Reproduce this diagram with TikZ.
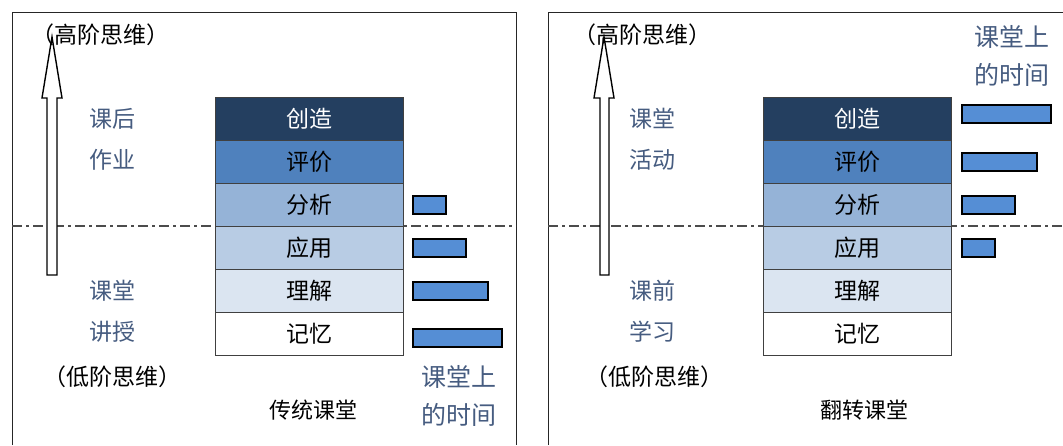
\documentclass[tikz,border=0pt]{standalone}
\usepackage{fontspec}
\setmainfont{Noto Sans CJK SC}
\usetikzlibrary{positioning}
\definecolor{lvA}{HTML}{243F60}
\definecolor{lvB}{HTML}{4F81BD}
\definecolor{lvC}{HTML}{95B3D7}
\definecolor{lvD}{HTML}{B8CCE4}
\definecolor{lvE}{HTML}{DBE5F1}
\definecolor{barblue}{HTML}{558ED5}
\definecolor{sidegray}{RGB}{70,92,128}
\begin{document}
\begin{tikzpicture}[x=1pt, y=-1pt, line join=miter, font=\fontsize{23}{26}\selectfont]
  \tikzset{level/.style={draw=black!75, line width=1.2pt, minimum width=188pt, minimum height=43pt, inner sep=0pt, anchor=north west},
    bar/.style={draw=black, line width=1.8pt, fill=barblue, minimum height=18pt, inner sep=0pt},
    side/.style={text=sidegray, inner sep=0pt},
    time/.style={side, font=\fontsize{25}{28}\selectfont},
    title/.style={inner sep=0pt, font=\fontsize{22}{26}\selectfont},
    frame/.style={draw=black!85, line width=0.8pt},
    cut/.style={draw=black!70, line width=1.3pt, dash pattern=on 10pt off 4pt on 3pt off 4pt},
    up/.style={draw=black, line width=1.4pt, fill=white}}
  \useasboundingbox (0,0) rectangle (1063,445);
  % frames and cut line
  \draw[frame] (12,445) -- (12,12) -- (516,12) -- (516,445);
  \draw[frame] (548,445) -- (548,12) -- (1063,12);
  \draw[cut] (12,226) -- (516,226);
  \draw[cut] (548,226) -- (1063,226);
  % left: traditional classroom
  \foreach \t/\c/\f [count=\i] in {创造/lvA/white, 评价/lvB/black, 分析/lvC/black, 应用/lvD/black, 理解/lvE/black, 记忆/white/black}
    \node[level, fill=\c, text=\f] (L\i) at (215, {97+43*(\i-1)}) {\t};
  \node[bar, minimum width=33pt, right=8pt of L3] (lb3) {};
  \node[bar, minimum width=53pt, right=8pt of L4] (lb4) {};
  \node[bar, minimum width=75pt, right=8pt of L5] (lb5) {};
  \node[bar, minimum width=89pt, right=8pt of L6, yshift=-4pt] (lb6) {};
  \draw[up] (47,275) -- (47,98) -- (42,98) -- (52,37) -- (62,98) -- (57,98) -- (57,275) -- cycle;
  \node[anchor=west, inner sep=0pt] (lhigh) at (31,35) {（高阶思维）};
  \node[anchor=west, inner sep=0pt] (llow) at (43,377) {（低阶思维）};
  \node[side] (lafter) at (112,119) {课后};
  \node[side] (lhw) at (112,160) {作业};
  \node[side] (lclass) at (112,291) {课堂};
  \node[side] (llect) at (112,332) {讲授};
  \node[time] (ltime1) at (459,377) {课堂上};
  \node[time] (ltime2) at (459,415) {的时间};
  \node[title] (ltitle) at (313,410) {传统课堂};
  % right: flipped classroom
  \foreach \t/\c/\f [count=\i] in {创造/lvA/white, 评价/lvB/black, 分析/lvC/black, 应用/lvD/black, 理解/lvE/black, 记忆/white/black}
    \node[level, fill=\c, text=\f] (R\i) at (763, {97+43*(\i-1)}) {\t};
  \node[bar, minimum width=89pt, right=9pt of R1, yshift=5pt] (rb1) {};
  \node[bar, minimum width=75pt, right=9pt of R2] (rb2) {};
  \node[bar, minimum width=53pt, right=9pt of R3] (rb3) {};
  \node[bar, minimum width=33pt, right=9pt of R4] (rb4) {};
  \draw[up] (600,275) -- (600,98) -- (594,98) -- (604,37) -- (614,98) -- (609,98) -- (609,275) -- cycle;
  \node[anchor=west, inner sep=0pt] (rhigh) at (573,35) {（高阶思维）};
  \node[anchor=west, inner sep=0pt] (rlow) at (585,377) {（低阶思维）};
  \node[side] (ract) at (652,119) {课堂};
  \node[side] (ract2) at (652,160) {活动};
  \node[side] (rpre) at (652,291) {课前};
  \node[side] (rpre2) at (652,332) {学习};
  \node[time] (rtime1) at (1012,37) {课堂上};
  \node[time] (rtime2) at (1012,75) {的时间};
  \node[title] (rtitle) at (864,410) {翻转课堂};
\end{tikzpicture}
\end{document}
